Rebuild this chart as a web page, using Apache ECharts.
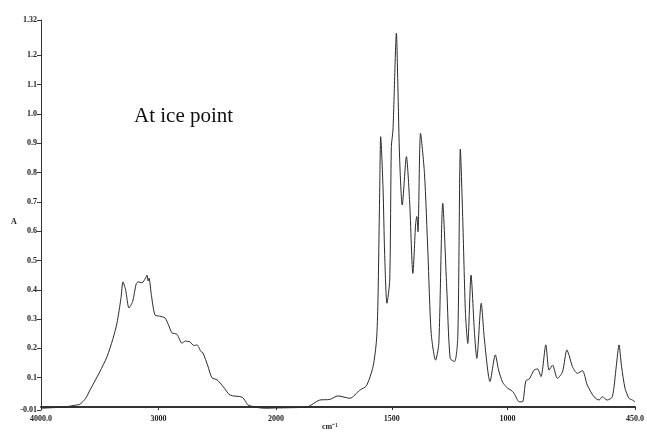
<!DOCTYPE html>
<html>
<head>
<meta charset="utf-8">
<script src="https://cdn.jsdelivr.net/npm/echarts@6/dist/echarts.min.js"></script>
<style>
  html, body { margin: 0; padding: 0; background: #fff; }
  #chart { width: 647px; height: 432px; }
</style>
</head>
<body>
<div id="chart"></div>
<script>
// wavenumber (cm-1)
const wavenumbers = [
  4000, 3900, 3800, 3728, 3668, 3620, 3583, 3500, 3438, 3390, 3353, 3320, 3302, 3280, 3251, 3220,
  3190, 3174, 3140, 3110, 3098, 3088, 3081, 3060, 3030, 2990, 2945, 2915, 2885, 2843, 2800, 2770,
  2732, 2700, 2672, 2640, 2621, 2580, 2545, 2502, 2450, 2391, 2289, 2260, 2238, 2150, 2080, 2000,
  1930, 1867, 1811, 1768, 1733, 1681, 1638, 1610, 1581, 1566, 1560, 1552, 1548, 1538, 1531, 1521,
  1509, 1502, 1495, 1480, 1474, 1466, 1455, 1437, 1423, 1409, 1397, 1392, 1387, 1376, 1359, 1344,
  1330, 1311, 1297, 1280, 1263, 1248, 1229, 1215, 1204, 1194, 1182, 1172, 1158, 1143, 1133, 1114,
  1100, 1076, 1053, 1039, 1022, 1007, 1000, 986, 972, 950, 936, 921, 907, 886, 871, 856,
  835, 821, 806, 785, 763, 744, 734, 720, 699, 677, 656, 627, 605, 591, 570, 548,
  531, 519, 508, 493, 476, 461, 450
];
// absorbance
const absorbance = [
  -0.004, -0.002, 0.0, 0.005, 0.01, 0.03, 0.058, 0.12, 0.172, 0.23, 0.287, 0.37, 0.427, 0.40, 0.338, 0.36,
  0.42, 0.427, 0.424, 0.44, 0.45, 0.43, 0.44, 0.38, 0.314, 0.31, 0.304, 0.28, 0.253, 0.248, 0.218, 0.225,
  0.222, 0.21, 0.212, 0.19, 0.184, 0.14, 0.10, 0.093, 0.07, 0.041, 0.034, 0.02, 0.007, -0.002, -0.004, -0.003,
  -0.002, 0.0, 0.024, 0.026, 0.038, 0.03, 0.058, 0.072, 0.138, 0.229, 0.355, 0.752, 0.922, 0.75, 0.525, 0.354,
  0.433, 0.888, 0.945, 1.275, 1.1, 0.843, 0.689, 0.854, 0.70, 0.456, 0.627, 0.65, 0.598, 0.934, 0.797, 0.524,
  0.252, 0.16, 0.217, 0.695, 0.41, 0.166, 0.155, 0.24, 0.88, 0.65, 0.32, 0.217, 0.45, 0.252, 0.166, 0.354,
  0.229, 0.087, 0.178, 0.126, 0.085, 0.07, 0.064, 0.058, 0.047, 0.018, 0.018, 0.09, 0.095, 0.126, 0.13, 0.104,
  0.212, 0.126, 0.143, 0.098, 0.12, 0.195, 0.175, 0.138, 0.115, 0.124, 0.075, 0.035, 0.024, 0.035, 0.024, 0.035,
  0.138, 0.212, 0.138, 0.064, 0.03, 0.024, 0.018
];
const yTicks = [-0.01, 0.1, 0.2, 0.3, 0.4, 0.5, 0.6, 0.7, 0.8, 0.9, 1.0, 1.1, 1.2, 1.32];
const xTicksHigh = [4000, 3000];          // 4000-2000 part of the scale
const xTicksLow = [2000, 1500, 1000, 450]; // expanded 2000-450 part

const points = wavenumbers.map((w, i) => [w, absorbance[i]]);
const highPart = points.filter(p => p[0] >= 2000);
const lowPart = points.filter(p => p[0] <= 2000);

const labelFont = {
  fontFamily: 'Liberation Serif, DejaVu Serif, serif',
  fontWeight: 'bold',
  fontSize: 8,
  color: '#222'
};
const xLabelText = v => (v === 4000 || v === 450) ? v.toFixed(1) : String(v);

const myChart = echarts.init(document.getElementById('chart'), null, { renderer: 'canvas' });
const option = {
  backgroundColor: '#fff',
  animation: false,
  grid: [
    { left: 41, top: 20, width: 235, height: 390 },
    { left: 276, top: 20, width: 360, height: 390 }
  ],
  xAxis: [
    {
      gridIndex: 0, type: 'value', min: 2000, max: 4000, inverse: true,
      axisLine: { lineStyle: { color: '#333', width: 2 } },
      axisTick: { show: true, length: 3, lineStyle: { color: '#333' }, customValues: xTicksHigh },
      axisLabel: Object.assign({ customValues: xTicksHigh, formatter: xLabelText, margin: 5 }, labelFont),
      splitLine: { show: false }
    },
    {
      gridIndex: 1, type: 'value', min: 450, max: 2000, inverse: true,
      axisLine: { lineStyle: { color: '#333', width: 2 } },
      axisTick: { show: true, length: 3, lineStyle: { color: '#333' }, customValues: xTicksLow },
      axisLabel: Object.assign({ customValues: xTicksLow, formatter: xLabelText, margin: 5 }, labelFont),
      splitLine: { show: false }
    }
  ],
  yAxis: [
    {
      gridIndex: 0, type: 'value', min: -0.01, max: 1.32,
      axisLine: { show: true, lineStyle: { color: '#333', width: 1 } },
      axisTick: { show: true, length: 4, lineStyle: { color: '#333' }, customValues: yTicks },
      axisLabel: Object.assign({
        customValues: yTicks, margin: 4,
        formatter: v => (v === -0.01 || v === 1.32) ? String(v) : v.toFixed(1)
      }, labelFont),
      splitLine: { show: false }
    },
    {
      gridIndex: 1, type: 'value', min: -0.01, max: 1.32, show: false,
      splitLine: { show: false }
    }
  ],
  series: [
    {
      type: 'line', xAxisIndex: 0, yAxisIndex: 0, data: highPart,
      symbol: 'none', smooth: 0.25,
      lineStyle: { color: '#2a2a2a', width: 1 }
    },
    {
      type: 'line', xAxisIndex: 1, yAxisIndex: 1, data: lowPart,
      symbol: 'none', smooth: 0.25,
      lineStyle: { color: '#2a2a2a', width: 1 }
    }
  ],
  graphic: [
    {
      type: 'text', left: 134, top: 106,
      style: { text: 'At ice point', font: '21px "Liberation Serif", serif', fill: '#111' }
    },
    {
      type: 'text', left: 11, top: 218,
      style: { text: 'A', font: 'bold 8px "Liberation Serif", serif', fill: '#222' }
    },
    {
      type: 'text', left: 322, top: 423,
      style: { text: 'cm⁻¹', font: 'bold 8px "Liberation Serif", serif', fill: '#222' }
    }
  ]
};
myChart.setOption(option);
</script>
</body>
</html>
